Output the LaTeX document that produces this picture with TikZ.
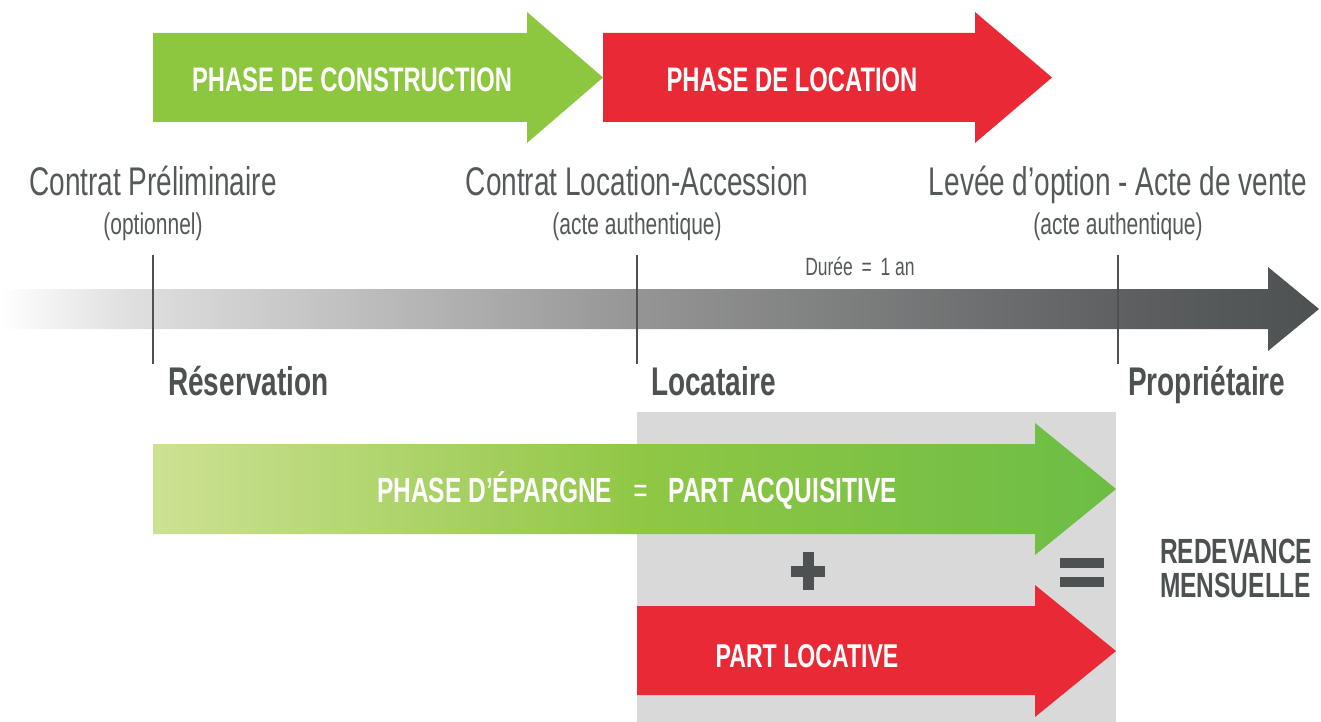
\documentclass[tikz,border=0pt]{standalone}
\usepackage{fontspec}
\setmainfont{Liberation Sans}[FakeStretch=0.7]
\definecolor{dgray}{RGB}{77,81,82}
\definecolor{tgray}{RGB}{85,89,90}
\definecolor{pgreen}{RGB}{141,198,63}
\definecolor{pred}{RGB}{233,42,54}
\definecolor{boxgray}{RGB}{217,217,217}
\definecolor{tlA}{RGB}{255,255,255}
\definecolor{tlB}{RGB}{225,225,225}
\definecolor{tlC}{RGB}{149,149,149}
\definecolor{tlD}{RGB}{94,96,97}
\definecolor{tlE}{RGB}{77,81,82}
\definecolor{gA}{RGB}{205,225,147}
\definecolor{gB}{RGB}{144,199,69}
\definecolor{gC}{RGB}{108,189,69}
\begin{document}
\begin{tikzpicture}[x=1pt,y=-1pt,
  lbl/.style={font=\fontsize{40}{44}\selectfont, text=tgray, inner sep=0pt, anchor=base},
  sublbl/.style={font=\fontsize{30}{32}\selectfont, text=tgray, inner sep=0pt, anchor=base},
  durlbl/.style={font=\fontsize{25}{28}\selectfont, text=tgray, inner sep=0pt, anchor=base},
  status/.style={font=\bfseries\fontsize{40}{44}\selectfont, text=dgray, inner sep=0pt, anchor=base west},
  phase/.style={font=\bfseries\fontsize{34}{38}\selectfont, text=white, inner sep=0pt, anchor=base},
  result/.style={font=\bfseries\fontsize{35}{36}\selectfont, text=dgray, inner sep=0pt, anchor=base west},
  tickline/.style={draw=dgray, line width=1.3pt},
  sign/.style={fill=dgray}]
\useasboundingbox (0,0) rectangle (1321,722);

% gray background box
\fill[boxgray] (637,412) rectangle (1116,722);

% top arrows
\fill[pgreen] (153,33) -- (527,33) -- (527,12) -- (603,77.5) -- (527,143) -- (527,122) -- (153,122) -- cycle;
\fill[pred] (603,33) -- (975,33) -- (975,12) -- (1052,77.5) -- (975,143) -- (975,122) -- (603,122) -- cycle;
\node[phase] (pconst) at (352,92) {PHASE DE CONSTRUCTION};
\node[phase] (ploc) at (792,92) {PHASE DE LOCATION};

% labels above timeline
\node[lbl] (c1) at (153,195) {Contrat Préliminaire};
\node[sublbl] (c1s) at (153,234) {(optionnel)};
\node[lbl] (c2) at (637,195) {Contrat Location-Accession};
\node[sublbl] (c2s) at (637,234) {(acte authentique)};
\node[lbl] (c3) at (1118,195) {Levée d’option - Acte de vente};
\node[sublbl] (c3s) at (1118,234) {(acte authentique)};

% timeline arrow with gradient
\begin{scope}
\clip (0,289) -- (1268,289) -- (1268,267) -- (1319,309) -- (1268,351) -- (1268,329) -- (0,329) -- cycle;
\shade[left color=tlA, right color=tlB] (0,260) rectangle (121,360);
\shade[left color=tlB, right color=tlC] (120,260) rectangle (638,360);
\shade[left color=tlC, right color=tlD] (637,260) rectangle (1119,360);
\shade[left color=tlD, right color=tlE] (1118,260) rectangle (1321,360);
\end{scope}
\node[durlbl] (dur) at (860,275) {Durée\hspace{0.35em}=\hspace{0.35em}1 an};

% tick lines
\coordinate (t1a) at (153,255); \coordinate (t1b) at (153,364);
\coordinate (t2a) at (637,255); \coordinate (t2b) at (637,364);
\coordinate (t3a) at (1118,255); \coordinate (t3b) at (1118,364);
\draw[tickline] (t1a) -- (t1b);
\draw[tickline] (t2a) -- (t2b);
\draw[tickline] (t3a) -- (t3b);

% status labels
\node[status] (s1) at (168,395) {Réservation};
\node[status] (s2) at (651,395) {Locataire};
\node[status] (s3) at (1128,395) {Propriétaire};

% bottom green arrow (gradient)
\begin{scope}
\clip (153,444) -- (1035,444) -- (1035,423) -- (1116,489) -- (1035,555) -- (1035,534) -- (153,534) -- cycle;
\shade[left color=gA, right color=gB] (153,420) rectangle (638,560);
\shade[left color=gB, right color=gC] (637,420) rectangle (1117,560);
\end{scope}
\node[phase, font=\bfseries\fontsize{35}{38}\selectfont] (epargne) at (637,502) {PHASE D’ÉPARGNE\hspace{0.6em}{\mdseries=}\hspace{0.6em}PART ACQUISITIVE};

% plus sign
\fill[sign] (791,566) rectangle (825,577);
\fill[sign] (802.5,552) rectangle (813.5,590);

% bottom red arrow
\fill[pred] (637,606) -- (1035,606) -- (1035,585) -- (1116,651) -- (1035,717) -- (1035,695) -- (637,695) -- cycle;
\node[phase, font=\bfseries\fontsize{33}{36}\selectfont] (locative) at (807,667) {PART LOCATIVE};

% equals sign
\fill[sign] (1060,558) rectangle (1104,568);
\fill[sign] (1060,577) rectangle (1104,587);

% result
\node[result] (r1) at (1160,563) {REDEVANCE};
\node[result] (r2) at (1160,597) {MENSUELLE};
\end{tikzpicture}
\end{document}
